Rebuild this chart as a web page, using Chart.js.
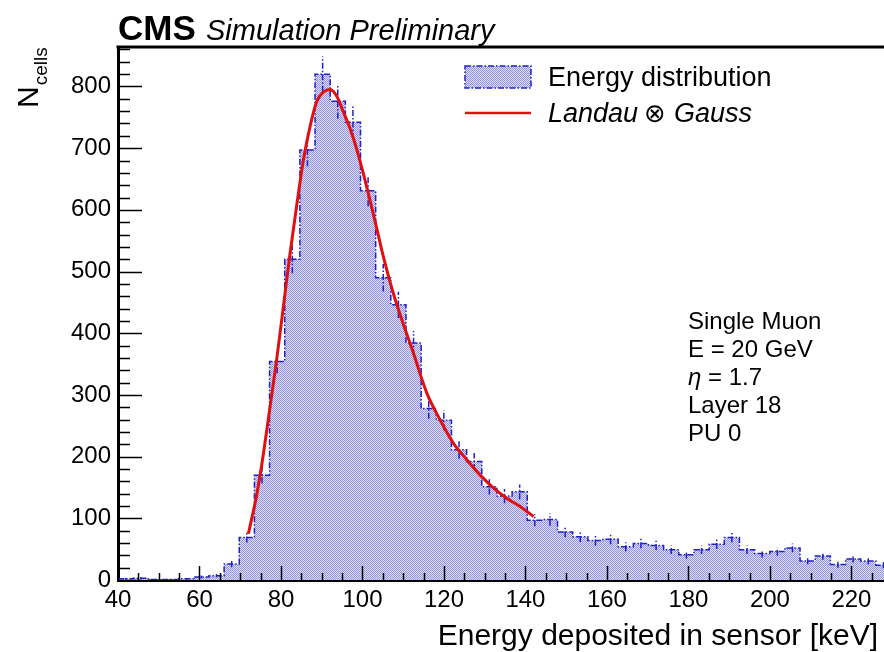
<!DOCTYPE html>
<html>
<head>
<meta charset="utf-8">
<title>Energy deposited in sensor</title>
<script src="https://cdn.jsdelivr.net/npm/chart.js@4.4.1/dist/chart.umd.min.js"></script>
<style>
  html, body { margin: 0; padding: 0; background: #fff; }
  canvas { display: block; }
</style>
</head>
<body>
<canvas id="energyChart" width="884" height="652"></canvas>
<script>
// Histogram binning, keV
const binStart = 40;
const binWidth = 3.72;
const binCounts = [
  2, 3, 1, 1, 2, 5, 7, 26, 69, 170,
  354, 520, 697, 820, 776, 742, 631, 490, 446, 384,
  278, 259, 211, 192, 151, 136, 143, 97, 98, 78,
  70, 64, 66, 54, 59, 56, 49, 41, 49, 58,
  69, 49, 43, 46, 52, 31, 39, 25, 34, 31,
  24
];

// Landau (x) Gauss fit, sampled along the curve
const fitEnergy = [
  72.0, 74.1, 75.7, 77.3, 79.0, 80.6, 82.2, 83.9, 85.5, 87.2,
  88.8, 90.4, 92.1, 93.7, 95.3, 97.0, 98.6, 100.2, 101.9, 103.5,
  105.1, 107.6, 109.5, 112.5, 115.8, 119.1, 122.3, 125.6, 128.9, 132.2,
  135.5, 138.7, 142.0
];
const fitCounts = [
  75, 140, 205, 280, 360, 444, 528, 609, 681, 737,
  776, 791, 795, 784, 759, 731, 698, 659, 614, 570,
  525, 464, 425, 368, 303, 259, 222, 195, 170, 149,
  132, 119, 103
];

const infoLines = ["Single Muon", "E = 20 GeV", "η = 1.7", "Layer 18", "PU 0"];

const FONT = '"Liberation Sans", Arial, "DejaVu Sans", sans-serif';
const histColor = "#2020c8";
const fitColor = "#e01010";
const dashDot = [6, 2, 1.5, 2];

function hatchPattern(ctx) {
  const c = document.createElement("canvas");
  c.width = 2;
  c.height = 2;
  const p = c.getContext("2d");
  p.fillStyle = "#dcdcf5";
  p.fillRect(0, 0, 2, 2);
  p.fillStyle = "#9595dd";
  p.fillRect(0, 0, 1, 1);
  p.fillRect(1, 1, 1, 1);
  return ctx.createPattern(c, "repeat");
}

const histPoints = binCounts.map((c, i) => ({ x: binStart + i * binWidth, y: c }));
histPoints.push({ x: binStart + binCounts.length * binWidth, y: 0 });

const fitPoints = fitEnergy.map((e, i) => ({ x: e, y: fitCounts[i] }));

// ROOT-style decorations: inner ticks, frame, error bars and texts
const rootStyle = {
  id: "rootStyle",
  afterDatasetDraw(chart, args) {
    if (args.index !== 1) return;
    const { ctx, chartArea: a, scales: { x, y } } = chart;
    ctx.save();
    ctx.beginPath();
    ctx.rect(a.left, a.top, a.right - a.left, a.bottom - a.top);
    ctx.clip();
    ctx.strokeStyle = histColor;
    ctx.lineWidth = 1.5;
    ctx.setLineDash(dashDot);
    binCounts.forEach((c, i) => {
      const xc = x.getPixelForValue(binStart + (i + 0.5) * binWidth);
      const err = Math.sqrt(c);
      ctx.beginPath();
      ctx.moveTo(xc, y.getPixelForValue(c - err));
      ctx.lineTo(xc, y.getPixelForValue(c + err));
      ctx.stroke();
    });
    ctx.restore();
  },
  afterDraw(chart) {
    const { ctx, chartArea: a, scales: { x, y } } = chart;
    ctx.save();

    // ticks inside the frame
    ctx.strokeStyle = "#000";
    ctx.lineWidth = 1.5;
    for (let v = 0; v <= y.max; v += 20) {
      const py = Math.round(y.getPixelForValue(v)) + 0.5;
      const len = v % 100 === 0 ? 24 : 12;
      ctx.beginPath();
      ctx.moveTo(a.left, py);
      ctx.lineTo(a.left + len, py);
      ctx.stroke();
    }
    for (let v = x.min; v <= x.max; v += 5) {
      const px = Math.round(x.getPixelForValue(v)) + 0.5;
      const len = v % 20 === 0 ? 14 : 7;
      ctx.beginPath();
      ctx.moveTo(px, a.bottom);
      ctx.lineTo(px, a.bottom - len);
      ctx.stroke();
    }

    // top of the frame
    ctx.lineWidth = 3;
    ctx.beginPath();
    ctx.moveTo(a.left - 1.5, a.top);
    ctx.lineTo(a.right, a.top);
    ctx.stroke();

    ctx.fillStyle = "#000";
    ctx.textBaseline = "alphabetic";

    // header
    ctx.textAlign = "left";
    ctx.font = `bold 35px ${FONT}`;
    ctx.fillText("CMS", 118, 40);
    ctx.font = `italic 29px ${FONT}`;
    ctx.fillText("Simulation Preliminary", 206, 40);

    // y title N_cells
    ctx.save();
    ctx.translate(38, 108);
    ctx.rotate(-Math.PI / 2);
    ctx.font = `30px ${FONT}`;
    ctx.fillText("N", 0, 0);
    const nw = ctx.measureText("N").width;
    ctx.font = `19px ${FONT}`;
    ctx.fillText("cells", nw + 1, 9);
    ctx.restore();

    // x title
    ctx.textAlign = "right";
    ctx.font = `30px ${FONT}`;
    ctx.fillText("Energy deposited in sensor [keV]", 878, 645);

    // legend
    const [fitSet, histSet] = chart.data.datasets;
    ctx.textAlign = "left";
    ctx.fillStyle = histSet.backgroundColor;
    ctx.fillRect(465, 66, 66, 22);
    ctx.strokeStyle = histColor;
    ctx.lineWidth = 1.5;
    ctx.setLineDash(dashDot);
    ctx.strokeRect(465, 66, 66, 22);
    ctx.setLineDash([]);
    ctx.strokeStyle = fitColor;
    ctx.lineWidth = 2.5;
    ctx.beginPath();
    ctx.moveTo(465, 113);
    ctx.lineTo(531, 113);
    ctx.stroke();
    ctx.fillStyle = "#000";
    ctx.font = `27px ${FONT}`;
    ctx.fillText(histSet.label, 548, 86);
    ctx.font = `italic 27px ${FONT}`;
    const parts = fitSet.label.split(" ⊗ ");
    ctx.fillText(parts[0], 548, 122);
    let lx = 548 + ctx.measureText(parts[0]).width + 6;
    ctx.font = `26px ${FONT}`;
    ctx.fillText("⊗", lx, 122);
    lx += ctx.measureText("⊗").width + 8;
    ctx.font = `italic 27px ${FONT}`;
    ctx.fillText(parts[1], lx, 122);

    // run conditions
    infoLines.forEach((line, i) => {
      const by = 329 + i * 28;
      if (line.startsWith("η")) {
        ctx.font = `italic 24px ${FONT}`;
        ctx.fillText("η", 688, by);
        const w = ctx.measureText("η").width;
        ctx.font = `24px ${FONT}`;
        ctx.fillText(line.slice(1), 688 + w, by);
      } else {
        ctx.font = `24px ${FONT}`;
        ctx.fillText(line, 688, by);
      }
    });

    ctx.restore();
  }
};

const ctx = document.getElementById("energyChart").getContext("2d");

new Chart(ctx, {
  type: "line",
  data: {
    datasets: [
      {
        label: "Landau ⊗ Gauss",
        data: fitPoints,
        borderColor: fitColor,
        borderWidth: 3,
        pointRadius: 0,
        cubicInterpolationMode: "monotone",
        fill: false,
        order: 1
      },
      {
        label: "Energy distribution",
        data: histPoints,
        stepped: "before",
        borderColor: histColor,
        borderWidth: 1.5,
        borderDash: dashDot,
        backgroundColor: hatchPattern(ctx),
        fill: "origin",
        pointRadius: 0,
        order: 2
      }
    ]
  },
  options: {
    responsive: false,
    animation: false,
    events: [],
    layout: { padding: { top: 47, left: 0, right: 0, bottom: 0 } },
    plugins: {
      legend: { display: false },
      tooltip: { enabled: false }
    },
    scales: {
      x: {
        type: "linear",
        min: 40,
        max: 228,
        grid: { display: false, drawTicks: false },
        border: { display: true, color: "#000", width: 3 },
        ticks: {
          stepSize: 20,
          includeBounds: false,
          autoSkip: false,
          maxRotation: 0,
          color: "#000",
          padding: 6,
          font: { family: FONT, size: 24 }
        },
        afterFit: s => { s.height = 72; }
      },
      y: {
        type: "linear",
        min: 0,
        max: 864,
        grid: { display: false, drawTicks: false },
        border: { display: true, color: "#000", width: 3 },
        ticks: {
          stepSize: 100,
          includeBounds: false,
          color: "#000",
          padding: 7,
          font: { family: FONT, size: 24 }
        },
        afterFit: s => { s.width = 118; }
      }
    }
  },
  plugins: [rootStyle]
});
</script>
</body>
</html>
